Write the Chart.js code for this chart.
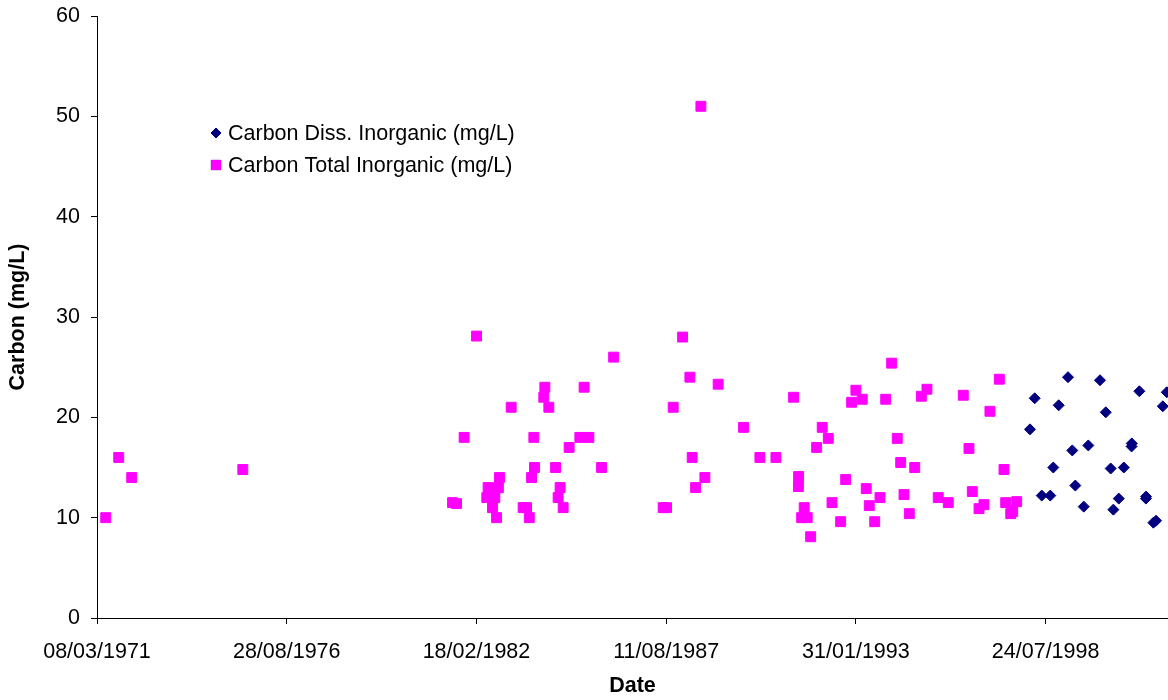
<!DOCTYPE html>
<html>
<head>
<meta charset="utf-8">
<title>Carbon</title>
<script src="https://cdn.jsdelivr.net/npm/chart.js@4.4.1/dist/chart.umd.min.js"></script>
<style>
  html, body { margin: 0; padding: 0; background: #fff; }
  #wrap { width: 1168px; height: 700px; }
</style>
</head>
<body>
<div id="wrap"><canvas id="carbonChart" width="1168" height="700"></canvas></div>
<script>
// Sample dates are spreadsheet serial days (1 = 31/12/1899, 26000 = 08/03/1971)
const totalDates = [
  26092, 26229, 26366, 27537,
  29748, 29790, 29870, 30001, 30109, 30123, 30136, 30169, 30194, 30212, 30231, 30243,
  30366, 30492, 30528, 30557, 30581, 30605, 30612, 30710, 30721, 30763, 30834, 30861,
  30882, 30914, 30977, 31090, 31135, 31185, 31319, 31446,
  31968, 32004, 32074, 32173, 32250, 32274, 32310, 32366, 32408, 32548, 32816, 32988,
  33157, 33343, 33396, 33394, 33428, 33455, 33487, 33523, 33586, 33645, 33709, 33748,
  33839, 33892, 33955, 34000, 34067, 34109, 34141, 34198, 34254, 34314, 34377, 34436,
  34472, 34507, 34563, 34620, 34690, 34749, 34868, 34974, 35132, 35192, 35227, 35298,
  35350, 35413, 35512, 35561, 35579, 35632, 35653, 35695
];
const totalValues = [
  10, 16, 14, 14.8,
  11.5, 11.4, 18, 28.1, 12, 13, 12.5, 11, 12, 10, 13, 14,
  21, 11, 11, 10, 14, 18, 15, 22, 23, 21, 15, 12,
  13, 11, 17, 18, 23, 18, 15, 26,
  11, 11, 21, 28, 24, 16, 13, 51, 14, 23.3, 19, 16,
  16, 22, 14.1, 13.1, 10, 11, 10, 8.1, 17, 19, 17.9, 11.5,
  9.6, 13.8, 21.5, 22.7, 21.8, 12.9, 11.2, 9.6, 12, 21.8, 25.4, 17.9,
  15.5, 12.3, 10.4, 15, 22.1, 22.8, 12, 11.5, 22.2, 16.9, 12.6, 10.9,
  11.3, 20.6, 23.8, 14.8, 11.5, 10.4, 10.6, 11.6
];

const dissDates = [
  35835, 35885, 35959, 36049, 36081, 36138, 36236, 36281, 36313, 36402, 36450, 36573,
  36634, 36686, 36714, 36771, 36824, 36908, 36906, 36988, 37059, 37057, 37136, 37164,
  37235, 37277
];
const dissValues = [
  18.8, 21.9, 12.2, 12.2, 15, 21.2, 24, 16.7, 13.2, 11.1, 17.2, 23.7,
  20.5, 14.9, 10.8, 11.9, 15, 17.4, 17.1, 22.6, 12.1, 11.9, 9.5, 9.7,
  21.1, 22.5
];

const seriesNames = ["Carbon Diss. Inorganic (mg/L)", "Carbon Total Inorganic (mg/L)"];
const xTicks = [26000, 28000, 30000, 32000, 34000, 36000];
const xEnd = 37290;
const yTicks = [0, 10, 20, 30, 40, 50, 60];

const FONT = "'Liberation Sans', Arial, sans-serif";

function serialToLabel(serial) {
  const d = new Date(Date.UTC(1899, 11, 30) + serial * 86400000);
  const dd = String(d.getUTCDate()).padStart(2, "0");
  const mm = String(d.getUTCMonth() + 1).padStart(2, "0");
  return `${dd}/${mm}/${d.getUTCFullYear()}`;
}

function toPoints(xs, ys) {
  return xs.map((x, i) => ({ x, y: ys[i] }));
}

// legend box sitting inside the plot, upper left
const insideLegend = {
  id: "insideLegend",
  afterDatasetsDraw(chart) {
    const ctx = chart.ctx;
    const rows = [133, 165];
    ctx.save();
    chart.data.datasets.forEach((ds, i) => {
      const y = rows[i];
      Chart.helpers.drawPoint(ctx, {
        pointStyle: ds.pointStyle,
        radius: ds.legendRadius,
        borderWidth: 1,
        rotation: 0
      }, 216, y);
      ctx.fillStyle = ds.backgroundColor;
      ctx.strokeStyle = ds.borderColor;
      ctx.fill();
      ctx.stroke();
      ctx.fillStyle = "#000";
      ctx.font = `21.5px ${FONT}`;
      ctx.textBaseline = "middle";
      ctx.textAlign = "left";
      ctx.fillText(ds.label, 228, y + 1);
    });
    ctx.restore();
  }
};

const ctx = document.getElementById("carbonChart").getContext("2d");
new Chart(ctx, {
  type: "scatter",
  data: {
    datasets: [
      {
        label: seriesNames[0],
        data: toPoints(dissDates, dissValues),
        pointStyle: "rectRot",
        pointRadius: 5.5,
        legendRadius: 5,
        backgroundColor: "#000080",
        borderColor: "#000080",
        borderWidth: 1
      },
      {
        label: seriesNames[1],
        data: toPoints(totalDates, totalValues),
        pointStyle: "rect",
        pointRadius: 7,
        legendRadius: 6.5,
        backgroundColor: "#ff00ff",
        borderColor: "#ff00ff",
        borderWidth: 1
      }
    ]
  },
  options: {
    responsive: false,
    animation: false,
    layout: { autoPadding: false, padding: { top: 16, right: 0, bottom: 0, left: 0 } },
    plugins: {
      legend: { display: false },
      tooltip: { enabled: false }
    },
    scales: {
      x: {
        type: "linear",
        min: xTicks[0],
        max: xEnd,
        afterFit(scale) {
          scale.height = 82;
          scale.paddingLeft = 0;
          scale.paddingRight = 0;
        },
        afterBuildTicks(scale) { scale.ticks = xTicks.map((v) => ({ value: v })); },
        ticks: {
          maxRotation: 0,
          autoSkip: false,
          padding: 15,
          color: "#000",
          font: { family: FONT, size: 21.5 },
          callback: (v) => serialToLabel(v)
        },
        grid: { drawOnChartArea: false, drawTicks: true, tickLength: 6, tickColor: "#000" },
        border: { display: true, color: "#000", width: 1 },
        title: {
          display: true,
          text: "Date",
          color: "#000",
          padding: { top: 0, bottom: 1 },
          font: { family: FONT, size: 21.5, weight: "bold" }
        }
      },
      y: {
        min: yTicks[0],
        max: yTicks[yTicks.length - 1],
        afterFit(scale) {
          scale.width = 97;
          scale.paddingTop = 0;
          scale.paddingBottom = 0;
        },
        afterBuildTicks(scale) { scale.ticks = yTicks.map((v) => ({ value: v })); },
        ticks: {
          padding: 11,
          color: "#000",
          font: { family: FONT, size: 21.5 }
        },
        grid: { drawOnChartArea: false, drawTicks: true, tickLength: 6, tickColor: "#000" },
        border: { display: true, color: "#000", width: 1 },
        title: {
          display: true,
          text: "Carbon (mg/L)",
          color: "#000",
          padding: { top: 5, bottom: 0 },
          font: { family: FONT, size: 21.5, weight: "bold" }
        }
      }
    }
  },
  plugins: [insideLegend]
});
</script>
</body>
</html>
